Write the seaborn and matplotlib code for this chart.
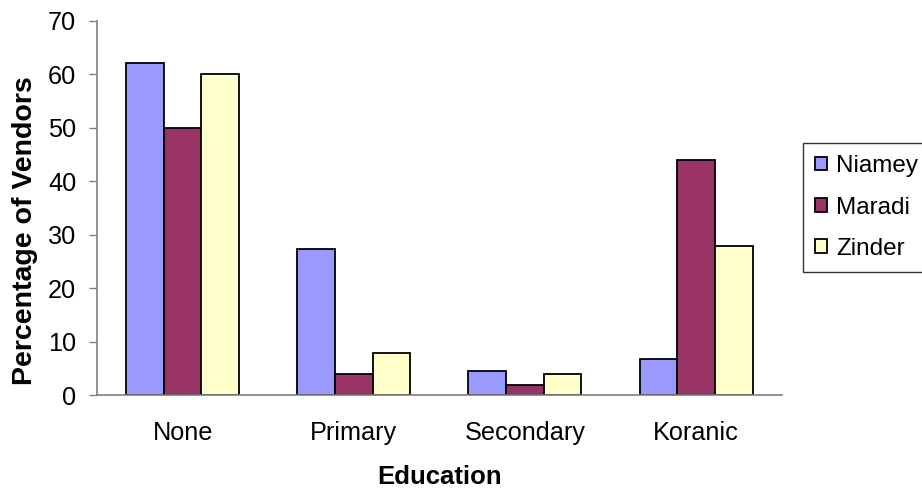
import matplotlib
matplotlib.use("Agg")
import matplotlib.pyplot as plt
import seaborn as sns
import pandas as pd
import numpy as np
from matplotlib.ticker import FixedLocator

categories = ["None", "Primary", "Secondary", "Koranic"]
cities = ["Niamey", "Maradi", "Zinder"]
niamey = [62, 27.3, 4.5, 6.7]
maradi = [50, 4.0, 1.9, 44.0]
zinder = [60, 7.8, 4.0, 27.9]
colors = ["#9999FF", "#993366", "#FFFFCC"]

rows = []
for city, vals in zip(cities, [niamey, maradi, zinder]):
    for cat, v in zip(categories, vals):
        rows.append({"Education": cat, "City": city, "Value": v})
df = pd.DataFrame(rows)

sns.set_style("white")
plt.rcParams["font.family"] = ["Liberation Sans", "DejaVu Sans"]
plt.rcParams["text.color"] = "black"
plt.rcParams["xtick.color"] = "black"
plt.rcParams["ytick.color"] = "black"
plt.rcParams["axes.labelcolor"] = "black"

fig = plt.figure(figsize=(9.22, 4.9), dpi=100)
ax = fig.add_axes([97/922, 1-395/490, (781.7-97)/922, (395-20.5)/490])

sns.barplot(data=df, x="Education", y="Value", hue="City", order=categories,
            hue_order=cities, palette=colors, width=0.66, gap=0,
            edgecolor="black", linewidth=1.3, saturation=1, ax=ax)

ax.set_xlim(-0.5, 3.5)
ax.set_ylim(0, 70)
ax.set_yticks(np.arange(0, 71, 10))
ax.xaxis.set_minor_locator(FixedLocator([-0.5, 0.5, 1.5, 2.5, 3.5]))
ax.tick_params(axis="x", which="major", length=0, pad=19, labelsize=18.2)
ax.tick_params(axis="x", which="minor", length=6, width=1, color="#808080", direction="out")
ax.tick_params(axis="y", length=6, width=1, color="#808080", direction="out",
               labelsize=18.2, pad=9, left=True)

for s in ["top", "right"]:
    ax.spines[s].set_visible(False)
for s in ["left", "bottom"]:
    ax.spines[s].set_color("#808080")
    ax.spines[s].set_linewidth(1.2)

ax.set_xlabel("Education", fontsize=18.5, fontweight="bold", labelpad=14)
ax.set_ylabel("Percentage of Vendors", fontsize=20.5, fontweight="bold")
ax.yaxis.set_label_coords(-0.0865, 0.438)

leg = ax.legend(loc="upper left", bbox_to_anchor=(803/922, 1-143/490),
                bbox_transform=fig.transFigure, fontsize=17.5, frameon=True,
                fancybox=False, edgecolor="black", handlelength=0.5,
                handleheight=0.5, handletextpad=0.35, labelspacing=0.8,
                borderpad=0.5, borderaxespad=0)
leg.get_frame().set_linewidth(1.0)
for h in leg.get_patches():
    h.set_edgecolor("black")
    h.set_linewidth(1.3)

fig.savefig("out.png", dpi=100)
